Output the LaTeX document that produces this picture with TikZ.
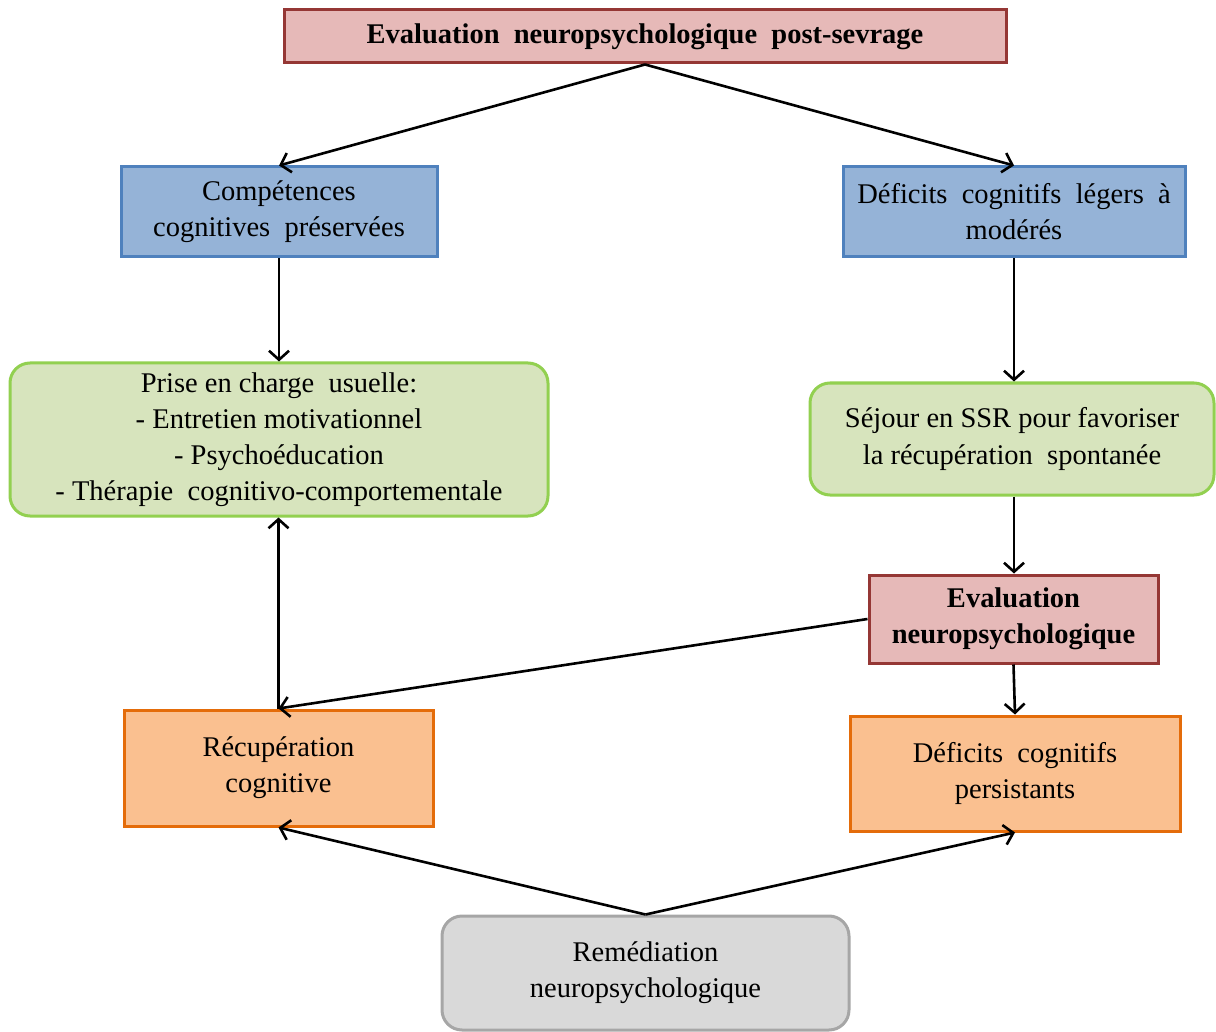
\documentclass[tikz,border=0pt]{standalone}
\usepackage{fontspec}
\setmainfont{Liberation Serif}
\usetikzlibrary{arrows.meta}
\definecolor{pinkfill}{HTML}{E6B9B8}
\definecolor{pinkdraw}{HTML}{953735}
\definecolor{bluefill}{HTML}{95B3D7}
\definecolor{bluedraw}{HTML}{4F81BD}
\definecolor{greenfill}{HTML}{D7E4BD}
\definecolor{greendraw}{HTML}{92D050}
\definecolor{orangefill}{HTML}{FAC090}
\definecolor{orangedraw}{HTML}{E46C0A}
\definecolor{greyfill}{HTML}{D9D9D9}
\definecolor{greydraw}{HTML}{A6A6A6}
\tikzset{
  box/.style={inner sep=0pt, align=center, line width=3pt,
    font=\fontsize{28.5}{36}\selectfont},
  pinkbox/.style={box, fill=pinkfill, draw=pinkdraw, font=\fontsize{28.5}{36}\selectfont\bfseries},
  bluebox/.style={box, fill=bluefill, draw=bluedraw},
  greenbox/.style={box, fill=greenfill, draw=greendraw, rounded corners=20pt},
  orangebox/.style={box, fill=orangefill, draw=orangedraw},
  greybox/.style={box, fill=greyfill, draw=greydraw, rounded corners=20pt},
  conn/.style={line width=2.6pt, -{Straight Barb[length=9pt,width=20pt,line width=2.6pt]}}
}
\begin{document}
\begin{tikzpicture}[x=1pt,y=-1pt]
\useasboundingbox (0,0) rectangle (1216,1032);
\node[pinkbox, minimum width=722pt, minimum height=53pt] (top) at (645,36.5)
  {Evaluation\ \ neuropsychologique\ \ post-sevrage};
\node[bluebox, minimum width=316pt, minimum height=90pt] (comp) at (279,212)
  {Compétences\\cognitives\ \ préservées};
\node[bluebox, minimum width=342pt, minimum height=90pt] (defl) at (1014,212)
  {Déficits\ \ cognitifs\ \ légers\ \ à\\modérés};
\node[greenbox, minimum width=538pt, minimum height=153pt] (prise) at (279,439.5)
  {Prise\ en\ charge\ \ usuelle:\\- Entretien\ motivationnel\\- Psychoéducation\\- Thérapie\ \ cognitivo-comportementale};
\node[greenbox, minimum width=404pt, minimum height=112pt] (sejour) at (1012,439)
  {Séjour\ en\ SSR\ pour\ favoriser\\la\ récupération\ \ spontanée};
\node[pinkbox, minimum width=289pt, minimum height=88pt] (eval) at (1013.5,619)
  {Evaluation\\neuropsychologique};
\node[orangebox, minimum width=309pt, minimum height=116pt] (recup) at (278.5,768)
  {Récupération\\cognitive};
\node[orangebox, minimum width=330pt, minimum height=115pt] (defp) at (1015,773.5)
  {Déficits\ \ cognitifs\\persistants};
\node[greybox, minimum width=407pt, minimum height=114pt] (remed) at (645.5,973)
  {Remédiation\\neuropsychologique};

\draw[conn] (top.south) -- (comp.north);
\draw[conn] (top.south) -- (defl.north);
\draw[conn] (comp.south) -- (prise.north -| comp.south);
\draw[conn] (defl.south) -- (sejour.north -| defl.south);
\draw[conn] (sejour.south -| defl.south) -- (eval.north -| defl.south);
\draw[conn] (eval.west) -- (recup.north);
\draw[conn] (eval.south) -- (defp.north);
\draw[conn] (recup.north) -- (prise.south -| recup.north);
\draw[conn] (remed.north) -- (recup.south);
\draw[conn] (remed.north) -- (defp.south);
\end{tikzpicture}
\end{document}
